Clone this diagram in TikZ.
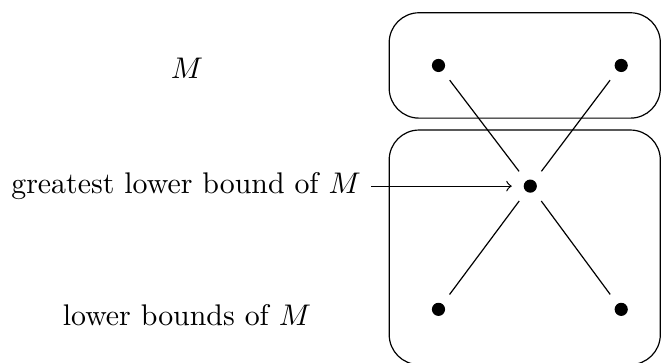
\documentclass[tikz,border=0pt]{standalone}

\newcommand*{\lowx}{-1.08}
\newcommand*{\highx}{1.07}

\begin{document}
\begin{tikzpicture}
[
	dot/.style={circle,draw,fill,inner sep=0pt,minimum size=4pt},
	link/.style={shorten <=4pt,shorten >=4pt},
	set/.style={rounded corners=10pt}
]

	\useasboundingbox (-6.24,-2.07) rectangle (1.55,2.19);
	\clip (-6.24,-2.07) rectangle (1.55,2.19);

	% boxes
	\draw[set] (-1.66,0.80) rectangle (1.53,2.04);
	\draw[set] (-1.66,-2.10) rectangle (1.53,0.66);

	% elements
	\node[dot] (tl) at (\lowx,1.42) {};
	\node[dot] (tr) at (\highx,1.42) {};
	\node[dot] (glb) at (0,0) {};
	\node[dot] (bl) at (\lowx,-1.45) {};
	\node[dot] (br) at (\highx,-1.45) {};

	\draw[link] (tl) -- (glb);
	\draw[link] (tr) -- (glb);
	\draw[link] (glb) -- (bl);
	\draw[link] (glb) -- (br);

	% labels
	\node (m) at (-4.04,1.39) {$M$};
	\node[anchor=east] (glbtext) at (-1.87,0) {greatest lower bound of $M$};
	\node (lower) at (-4.04,-1.52) {lower bounds of $M$};

	\draw[->,shorten >=4pt] (glbtext) -- (glb);

\end{tikzpicture}
\end{document}
